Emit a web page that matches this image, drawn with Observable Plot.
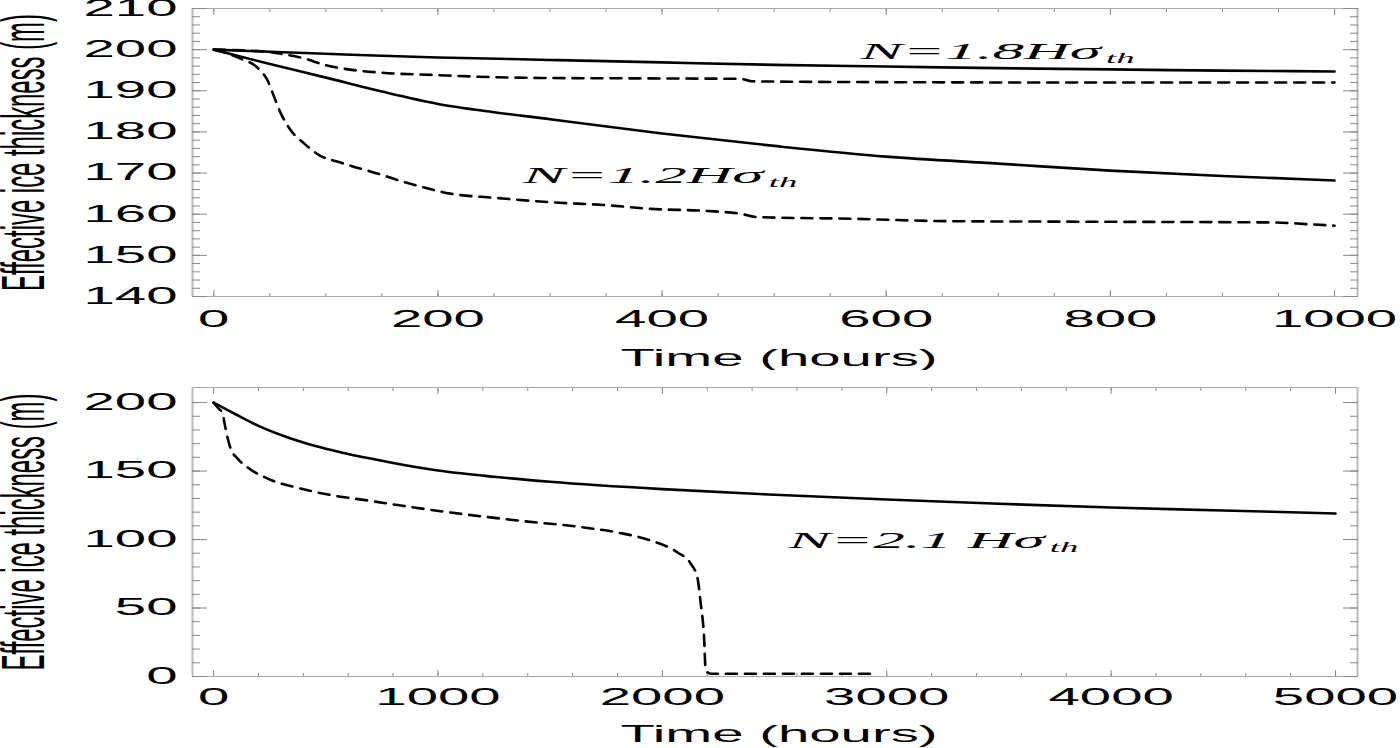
<!DOCTYPE html>
<html>
<head>
<meta charset="utf-8">
<script src="https://cdn.jsdelivr.net/npm/d3@7"></script>
<script src="https://cdn.jsdelivr.net/npm/@observablehq/plot@0.6"></script>
<style>
  html, body { margin: 0; padding: 0; background: #fff; }
  #chart { width: 1400px; height: 748px; overflow: hidden; }
  #chart svg { display: block; }
</style>
</head>
<body>
<div id="chart"></div>
<script>
// ---------- text ----------
const xLabelText = "Time (hours)";
const yLabelText = "Effective ice thickness (m)";

// ---------- top panel data (0–1000 h) ----------
const topXMajor = [0, 200, 400, 600, 800, 1000];
const topXMinor = [0,50,100,150,200,250,300,350,400,450,500,550,600,650,700,750,800,850,900,950,1000];
const topYMajor = [140, 150, 160, 170, 180, 190, 200, 210];
const topYMinor = [140,142,144,146,148,150,152,154,156,158,160,162,164,166,168,170,172,174,176,178,180,182,184,186,188,190,192,194,196,198,200,202,204,206,208,210];

const top18SolidT = [0, 50, 100, 150, 200, 300, 400, 500, 600, 700, 800, 900, 1000];
const top18SolidV = [200, 199.5, 199.0, 198.5, 198.1, 197.5, 196.9, 196.3, 195.9, 195.5, 195.2, 194.9, 194.7];
const top18DashT = [0, 30, 60, 80, 100, 120, 150, 200, 250, 300, 400, 470, 480, 600, 800, 1000];
const top18DashV = [200, 199.8, 199.0, 197.9, 196.2, 195.2, 194.4, 193.8, 193.3, 193.1, 193.0, 192.9, 192.3, 192.1, 192.0, 192.0];
const top12SolidT = [0, 50, 100, 150, 200, 250, 300, 400, 500, 600, 700, 800, 900, 1000];
const top12SolidV = [200, 196.5, 193.2, 189.8, 186.8, 184.8, 183.1, 179.6, 176.6, 174.0, 172.3, 170.6, 169.3, 168.2];
const top12DashT = [0, 10, 24, 39, 48, 54, 60, 69, 81, 95, 110, 122, 152, 165, 182, 211, 250, 301, 350, 390, 440, 470, 485, 568, 657, 750, 945, 975, 1000];
const top12DashV = [200, 199.3, 197.8, 195.6, 192.5, 188.4, 184.4, 180.3, 177.1, 174.2, 172.8, 171.8, 169.4, 168.2, 166.9, 165.0, 164.0, 162.9, 162.2, 161.3, 160.8, 160.1, 159.3, 158.9, 158.3, 158.2, 158.0, 157.6, 157.2];

const topNoteMain = ["N=1.8Hσ", "N=1.2Hσ"];
const topNoteSub = ["th", "th"];
const topNoteT = [577, 276];
const topNoteV = [197.8, 167.7];

// ---------- bottom panel data (0–5000 h) ----------
const botXMajor = [0, 1000, 2000, 3000, 4000, 5000];
const botXMinor = [0,200,400,600,800,1000,1200,1400,1600,1800,2000,2200,2400,2600,2800,3000,3200,3400,3600,3800,4000,4200,4400,4600,4800,5000];
const botYMajor = [0, 50, 100, 150, 200];
const botYMinor = [0,10,20,30,40,50,60,70,80,90,100,110,120,130,140,150,160,170,180,190,200];

const botSolidT = [0, 100, 200, 300, 400, 500, 600, 700, 800, 1000, 1250, 1500, 2000, 2500, 3000, 3500, 4000, 4500, 5000];
const botSolidV = [200, 191.3, 183, 176.3, 170.8, 166.3, 162.5, 159.1, 155.9, 150.4, 145.8, 142.2, 136.8, 132.7, 129.2, 126.1, 123.4, 121.2, 119];
const botDashT = [0, 20, 40, 49, 62, 76, 107, 152, 241, 388, 535, 687, 834, 1057, 1354, 1651, 1800, 1948, 2068, 2126, 2156, 2171, 2186, 2193, 2215, 2960];
const botDashV = [200, 196, 192, 184.7, 174.5, 166.4, 159.1, 152.6, 144.5, 137.2, 132.1, 128.5, 124.8, 119.7, 113.9, 108.8, 105.1, 99.3, 90.5, 82.5, 72.3, 53.3, 28.5, 4.4, 2, 2];

const botNoteMain = ["N=2.1 Hσ"];
const botNoteSub = ["th"];
const botNoteT = [2562];
const botNoteV = [93.5];

// ---------- helpers ----------
const SX = 2.45;   // horizontal stretch of the original figure's lettering
const SXN = 2.63;  // stretch for the italic annotations
const Y_LABEL_LEN = 277; // rendered length of the rotated axis title
const rows = (ts, vs) => ts.map((t, i) => ({t, v: vs[i]}));
const notes = (m, s, ts, vs) => m.map((main, i) => ({main, sub: s[i], t: ts[i], v: vs[i]}));
const allNoteMains = [...topNoteMain, ...botNoteMain];
const allNoteSubs = [...topNoteSub, ...botNoteSub];

function panel(c) {
  const tick = {tickFormat: () => "", stroke: "#888", label: null};
  return Plot.plot({
    width: 1400,
    height: c.height,
    marginLeft: 192,
    marginRight: 43,
    marginTop: c.marginTop,
    marginBottom: c.marginBottom,
    x: {domain: c.xDomain},
    y: {domain: c.yDomain},
    style: {fontFamily: "'Liberation Sans', Arial, Helvetica, sans-serif", fontSize: "23px", background: "white", color: "black"},
    marks: [
      Plot.frame({stroke: "#aaa", strokeWidth: 1}),
      Plot.ruleX(c.xDomain, {stroke: "#bbb", strokeWidth: 2}),
      Plot.axisX(c.xMinor, {anchor: "bottom", tickSize: -3, ...tick}),
      Plot.axisX(c.xMajor, {anchor: "bottom", tickSize: -6, ...tick}),
      Plot.axisX(c.xMinor, {anchor: "top", tickSize: -3, ...tick}),
      Plot.axisX(c.xMajor, {anchor: "top", tickSize: -6, ...tick}),
      Plot.axisY(c.yMinor, {anchor: "left", tickSize: -8, ...tick}),
      Plot.axisY(c.yMajor, {anchor: "left", tickSize: -15, ...tick}),
      Plot.axisY(c.yMinor, {anchor: "right", tickSize: -8, ...tick}),
      Plot.axisY(c.yMajor, {anchor: "right", tickSize: -15, ...tick}),
      Plot.axisX(c.xMajor, {anchor: "bottom", tickSize: 0, tickPadding: c.xPad, fontSize: 23, label: null, tickFormat: d => String(d)}),
      Plot.axisY(c.yMajor, {anchor: "left", tickSize: 0, tickPadding: 15, fontSize: 23, label: null, tickFormat: d => String(d)}),
      Plot.text([xLabelText], {text: d => d, frameAnchor: "bottom", lineAnchor: "top", dy: c.xLabelDy, dx: 4, fontSize: 23}),
      Plot.text([yLabelText], {text: d => d, frameAnchor: "left", rotate: -90, lineAnchor: "bottom", textAnchor: "middle", dx: -149, fontSize: 62}),
      ...c.series.map(s => Plot.line(s.data, {x: "t", y: "v", curve: "monotone-x", stroke: "black", strokeWidth: 2.6, strokeDasharray: s.dash ? "11,8" : null})),
      Plot.text(c.notes, {x: "t", y: "v", text: "main", textAnchor: "start", lineAnchor: "bottom", fontFamily: "'Liberation Serif', 'Times New Roman', serif", fontStyle: "italic", fontSize: 24})
    ]
  });
}

function finish(svg) {
  svg.querySelectorAll("text").forEach(el => {
    const s = el.textContent;
    const tr = el.getAttribute("transform") || "";
    if (/^\d+$/.test(s) || s === xLabelText) {
      el.setAttribute("transform", tr + ` scale(${SX},1)`);
    } else if (s === yLabelText) {
      const len = el.getComputedTextLength();
      el.setAttribute("transform", tr + ` scale(${Y_LABEL_LEN / len},1)`);
    } else {
      const k = allNoteMains.indexOf(s);
      if (k >= 0) {
        const ts = document.createElementNS("http://www.w3.org/2000/svg", "tspan");
        ts.textContent = allNoteSubs[k];
        ts.setAttribute("font-size", "14");
        ts.setAttribute("dy", "4");
        ts.setAttribute("dx", "2");
        el.appendChild(ts);
        el.setAttribute("transform", tr + ` scale(${SXN},1)`);
      }
    }
  });
  return svg;
}

const topPlot = panel({
  height: 370, marginTop: 8, marginBottom: 74,
  xDomain: [-19, 1020.5], yDomain: [140, 210],
  xMajor: topXMajor, xMinor: topXMinor, yMajor: topYMajor, yMinor: topYMinor,
  xPad: 14, xLabelDy: 53,
  series: [
    {data: rows(top18SolidT, top18SolidV), dash: false},
    {data: rows(top18DashT, top18DashV), dash: true},
    {data: rows(top12SolidT, top12SolidV), dash: false},
    {data: rows(top12DashT, top12DashV), dash: true}
  ],
  notes: notes(topNoteMain, topNoteSub, topNoteT, topNoteV)
});

const botPlot = panel({
  height: 378, marginTop: 17, marginBottom: 72,
  xDomain: [-94, 5098], yDomain: [0, 211],
  xMajor: botXMajor, xMinor: botXMinor, yMajor: botYMajor, yMinor: botYMinor,
  xPad: 12, xLabelDy: 49,
  series: [
    {data: rows(botSolidT, botSolidV), dash: false},
    {data: rows(botDashT, botDashV), dash: true}
  ],
  notes: notes(botNoteMain, botNoteSub, botNoteT, botNoteV)
});

const chart = document.getElementById("chart");
chart.append(topPlot, botPlot);
finish(topPlot);
finish(botPlot);
</script>
</body>
</html>
